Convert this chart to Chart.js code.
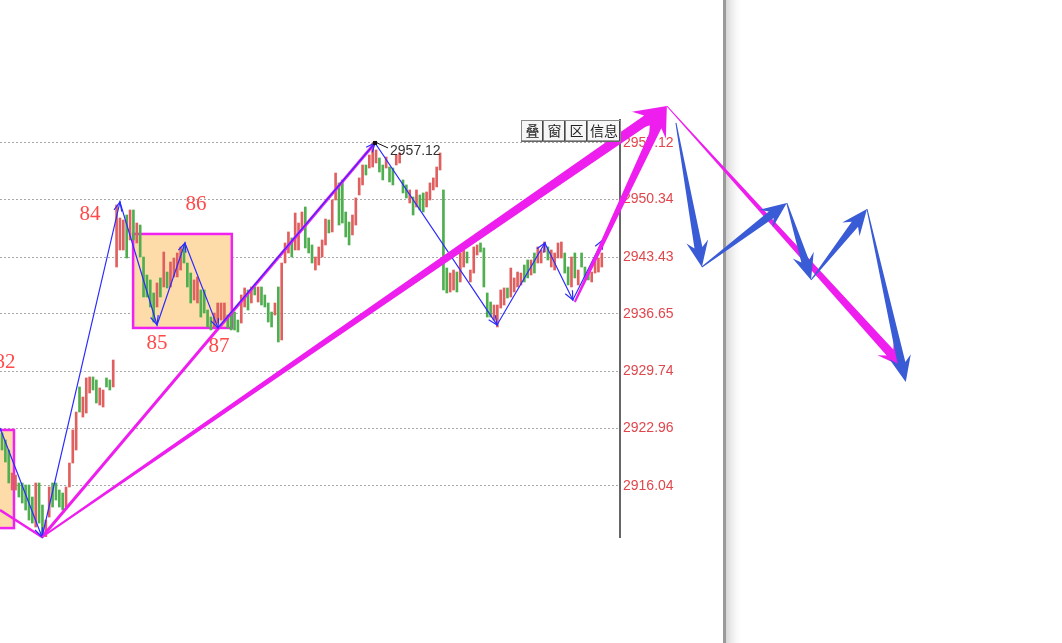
<!DOCTYPE html>
<html>
<head>
<meta charset="utf-8">
<script src="https://cdn.jsdelivr.net/npm/chart.js@4.4.1/dist/chart.umd.min.js"></script>
<style>
  html, body { margin: 0; padding: 0; background: #fff; }
  canvas { display: block; }
</style>
</head>
<body>
<canvas id="kline" width="1062" height="643"></canvas>
<script>
// price ticks on the right axis
var priceTicks = [2957.12, 2950.34, 2943.43, 2936.65, 2929.74, 2922.96, 2916.04];
var priceMin = 2909.92, priceMax = 2959.87;

// candles (r = rising/red, g = falling/green)
var candleHigh = [2922.38,2921.54,2920.34,2917.58,2917.34,2916.39,2916.39,2916.15,2916.15,2914.71,
  2916.39,2916.39,2913.75,2911.95,2915.91,2916.39,2916.39,2915.55,2915.19,2915.91,
  2918.78,2922.74,2924.89,2927.89,2926.69,2928.97,2929.09,2929.09,2928.73,2927.77,
  2927.53,2928.97,2928.73,2931.12,2949.69,2948.13,2947.89,2948.49,2949.09,2949.09,
  2947.53,2947.29,2943.46,2941.30,2940.71,2939.15,2940.35,2940.95,2944.06,2941.66,
  2942.86,2943.34,2943.94,2944.66,2944.90,2942.74,2941.54,2940.71,2941.07,2939.51,
  2939.51,2937.11,2936.27,2936.75,2937.95,2937.95,2937.95,2936.51,2936.87,2936.87,
  2935.91,2938.91,2939.75,2939.51,2939.87,2939.87,2939.87,2939.87,2938.91,2937.95,
  2936.87,2937.95,2939.87,2942.74,2945.14,2946.46,2945.74,2948.73,2947.53,2948.85,
  2949.45,2945.74,2944.90,2943.46,2944.66,2945.50,2948.01,2947.89,2950.29,2953.52,
  2952.33,2952.69,2948.85,2947.65,2948.49,2950.53,2952.93,2954.48,2954.48,2955.68,
  2957.12,2956.28,2955.32,2954.48,2955.44,2954.24,2954.12,2955.68,2955.92,2952.69,
  2952.09,2951.49,2950.65,2951.49,2950.89,2951.13,2951.25,2952.33,2952.93,2954.24,
  2955.92,2951.49,2942.14,2941.54,2941.90,2941.66,2943.94,2944.30,2944.06,2941.90,
  2944.66,2944.90,2945.14,2944.54,2939.15,2938.07,2937.71,2937.71,2939.51,2939.75,
  2939.75,2942.14,2940.95,2941.66,2941.54,2942.50,2943.10,2943.10,2943.94,2944.66,
  2944.30,2945.26,2944.66,2944.30,2943.94,2945.14,2945.26,2943.94,2942.26,2943.46,
  2943.94,2941.90,2943.94,2942.26,2941.54,2941.66,2943.10,2943.34,2943.94];
var candleLow = [2920.34,2918.90,2916.39,2915.55,2915.55,2914.71,2913.99,2913.15,2911.95,2911.59,
  2911.12,2911.59,2909.92,2909.92,2912.31,2913.51,2914.35,2913.51,2913.15,2913.51,
  2915.91,2918.78,2920.34,2924.89,2924.29,2924.77,2927.17,2927.53,2925.97,2925.73,
  2925.49,2927.89,2927.53,2927.89,2942.26,2944.30,2944.30,2943.34,2945.50,2945.50,
  2945.14,2943.46,2938.67,2938.67,2937.47,2935.67,2937.47,2938.67,2939.87,2939.75,
  2939.87,2941.07,2941.07,2941.90,2942.74,2939.87,2937.95,2938.31,2937.95,2936.27,
  2936.75,2935.08,2934.72,2935.08,2935.55,2935.91,2935.91,2934.96,2934.72,2934.72,
  2934.48,2935.55,2937.47,2937.11,2937.95,2938.91,2938.07,2937.71,2937.47,2935.67,
  2935.08,2936.51,2933.28,2933.52,2942.74,2943.94,2943.46,2944.30,2944.30,2946.70,
  2944.54,2943.94,2942.74,2941.90,2942.50,2943.46,2944.90,2946.34,2946.46,2950.29,
  2947.29,2947.53,2945.86,2944.90,2946.10,2947.29,2950.89,2952.09,2953.28,2954.12,
  2954.24,2954.72,2953.64,2952.69,2954.12,2952.45,2952.09,2954.48,2954.72,2951.13,
  2950.53,2949.93,2948.49,2949.45,2949.09,2948.85,2949.45,2950.29,2951.49,2951.85,
  2953.88,2939.51,2939.15,2939.27,2939.51,2939.27,2940.47,2942.26,2942.74,2940.47,
  2941.54,2943.70,2944.06,2939.87,2936.27,2936.27,2935.91,2935.08,2937.35,2937.71,
  2938.55,2938.67,2939.27,2939.87,2940.11,2940.47,2940.95,2941.30,2941.54,2942.74,
  2942.74,2944.06,2943.10,2942.26,2941.90,2943.34,2943.34,2941.54,2940.11,2939.87,
  2940.95,2940.11,2942.26,2940.95,2940.71,2940.47,2941.54,2941.66,2942.26];
var candleColor = ("gggrrggggg" + "rggrrggggr" + "rrrgrrrggr" + "rggrrrrgrg" + "rgggggrgrg" +
  "rrrrgggrrg" + "gggrrrrggg" + "grrgrgrggg" + "grgrrrgrrr" + "gggrrrrgrr" +
  "ggggrrrrgr" + "rrggrggrrg" + "grgrggrrrr" + "rggrrgrrgr" + "rrggggrrrr" +
  "grrrrggrgr" + "rrgrrrrggr" + "grgggrrrr").split("");

// wave drawing: [candle index, price]
var blueWave = [[-0.6,2922.98],[11.87,2909.92],[35.0,2950.05],[46.0,2935.32],[54.3,2945.14],
  [64.1,2934.96],[110.7,2957.12],[146.9,2935.32],[161.1,2945.14],[169.4,2938.31],[178.3,2945.50]];
var magentaBase = [[-0.6,2913.15],[11.87,2909.92]];
var magentaRise = [[11.87,2909.92],[110.7,2957.12]];
var magentaArrows = [
  [[11.87,2909.92],[197.3,2961.55]],
  [[170.0,2938.07],[197.3,2961.55]],
  [[197.3,2961.55],[267.4,2930.28]]
];
var bluePivots = [[200.0,2959.52],[207.7,2942.26],[232.9,2949.93],[240.1,2940.71],[256.7,2949.21],[268.2,2928.49]];
// zone boxes: [x from, x to, price low, price high]
var zoneBoxes = [[-3, 3.55, 2910.99, 2922.74], [38.9, 68.2, 2934.96, 2946.22]];
var waveLabels = ["82", "84", "85", "86", "87"];
var waveLabelPos = [[0.9,2930.88],[26.1,2948.61],[46.0,2933.16],[57.6,2949.81],[64.4,2932.80]];
var peakPoint = [110.7, 2957.12];
var peakLabel = "2957.12";
var buttonLabels = ["叠", "窗", "区", "信息"];

var candleData = candleHigh.map(function (h, i) { return { x: i, y: [candleLow[i], h] }; });
var toXY = function (p) { return { x: p[0], y: p[1] }; };

function arrow(ctx, a, b, w0, w1, hw, hl, color) {
  var dx = b[0] - a[0], dy = b[1] - a[1], L = Math.hypot(dx, dy);
  var ux = dx / L, uy = dy / L, nx = -uy, ny = ux;
  var sx = b[0] - ux * hl * 0.75, sy = b[1] - uy * hl * 0.75;
  var kx = b[0] - ux * hl, ky = b[1] - uy * hl;
  ctx.beginPath();
  ctx.moveTo(a[0] + nx * w0 / 2, a[1] + ny * w0 / 2);
  ctx.lineTo(sx + nx * w1 / 2, sy + ny * w1 / 2);
  ctx.lineTo(kx + nx * hw / 2, ky + ny * hw / 2);
  ctx.lineTo(b[0], b[1]);
  ctx.lineTo(kx - nx * hw / 2, ky - ny * hw / 2);
  ctx.lineTo(sx - nx * w1 / 2, sy - ny * w1 / 2);
  ctx.lineTo(a[0] - nx * w0 / 2, a[1] - ny * w0 / 2);
  ctx.closePath();
  ctx.fillStyle = color;
  ctx.fill();
}

var overlay = {
  id: 'overlay',
  beforeDraw: function (chart) {
    var ctx = chart.ctx;
    ctx.save();
    var g = ctx.createLinearGradient(726, 0, 744, 0);
    g.addColorStop(0, '#d6d6d6');
    g.addColorStop(1, 'rgba(255,255,255,0)');
    ctx.fillStyle = g;
    ctx.fillRect(726, 0, 18, chart.height);
    ctx.fillStyle = '#9a9a9a';
    ctx.fillRect(723, 0, 3, chart.height);
    ctx.restore();
  },
  beforeDatasetsDraw: function (chart) {
    var ctx = chart.ctx, xs = chart.scales.x, ys = chart.scales.y;
    ctx.save();
    zoneBoxes.forEach(function (b) {
      var x0 = xs.getPixelForValue(b[0]), x1 = xs.getPixelForValue(b[1]);
      var y0 = ys.getPixelForValue(b[3]), y1 = ys.getPixelForValue(b[2]);
      ctx.fillStyle = '#fddcaa';
      ctx.fillRect(x0, y0, x1 - x0, y1 - y0);
      ctx.strokeStyle = '#f022f0';
      ctx.lineWidth = 2.5;
      ctx.strokeRect(x0, y0, x1 - x0, y1 - y0);
    });
    ctx.restore();
  },
  afterDraw: function (chart) {
    var ctx = chart.ctx, xs = chart.scales.x, ys = chart.scales.y;
    var P = function (p) { return [xs.getPixelForValue(p[0]), ys.getPixelForValue(p[1])]; };
    ctx.save();

    // little open arrow heads on the wave line
    ctx.strokeStyle = '#2b2bff';
    ctx.lineWidth = 1.2;
    for (var i = 1; i < blueWave.length; i++) {
      var a = P(blueWave[i - 1]), b = P(blueWave[i]);
      var dx = b[0] - a[0], dy = b[1] - a[1], L = Math.hypot(dx, dy);
      var ux = dx / L, uy = dy / L;
      ctx.beginPath();
      ctx.moveTo(b[0] - ux * 9 - uy * 4, b[1] - uy * 9 + ux * 4);
      ctx.lineTo(b[0], b[1]);
      ctx.lineTo(b[0] - ux * 9 + uy * 4, b[1] - uy * 9 - ux * 4);
      ctx.stroke();
    }

    // peak marker
    var pk = P(peakPoint);
    ctx.fillStyle = '#111';
    ctx.fillRect(pk[0] - 2, pk[1] - 2, 4, 4);
    ctx.strokeStyle = '#111';
    ctx.lineWidth = 1;
    ctx.beginPath();
    ctx.moveTo(pk[0] + 2, pk[1]);
    ctx.lineTo(pk[0] + 13, pk[1] + 5);
    ctx.stroke();
    ctx.fillStyle = '#333';
    ctx.font = '14px "Liberation Sans", Arial, sans-serif';
    ctx.textBaseline = 'middle';
    ctx.textAlign = 'left';
    ctx.fillText(peakLabel, pk[0] + 15, pk[1] + 8);

    // wave numbers
    ctx.fillStyle = '#ff4a4a';
    ctx.font = '21px "Liberation Serif", "Times New Roman", serif';
    ctx.textAlign = 'center';
    waveLabels.forEach(function (t, k) {
      var q = P(waveLabelPos[k]);
      ctx.fillText(t, q[0], q[1]);
    });

    // big arrows
    var mSize = [[2, 10, 30, 32], [2, 9, 26, 30], [1, 9, 22, 26]];
    magentaArrows.forEach(function (m, k) {
      var s = mSize[k];
      arrow(ctx, P(m[0]), P(m[1]), s[0], s[1], s[2], s[3], '#ee1eee');
    });
    for (var j = 1; j < bluePivots.length; j++) {
      arrow(ctx, P(bluePivots[j - 1]), P(bluePivots[j]), 1, 8, 22, 26, '#3a5bd6');
    }

    // toolbar buttons
    var edges = [521, 543, 565, 587, 620];
    ctx.font = '14px "Noto Sans CJK SC", sans-serif';
    for (var n = 0; n < buttonLabels.length; n++) {
      var x0 = edges[n] + 0.5, w = edges[n + 1] - edges[n];
      ctx.fillStyle = '#f6f6f6';
      ctx.fillRect(x0, 120.5, w, 21);
      ctx.strokeStyle = '#888';
      ctx.lineWidth = 1;
      ctx.strokeRect(x0, 120.5, w, 21);
      ctx.strokeStyle = '#444';
      ctx.beginPath();
      ctx.moveTo(x0 + w - 1, 121);
      ctx.lineTo(x0 + w - 1, 141);
      ctx.lineTo(x0, 141);
      ctx.stroke();
      ctx.fillStyle = '#222';
      ctx.textAlign = 'center';
      ctx.fillText(buttonLabels[n], x0 + w / 2, 131);
    }
    ctx.restore();
  }
};

var ctx = document.getElementById('kline').getContext('2d');
var kline = new Chart(ctx, {
  type: 'bar',
  data: {
    datasets: [{
      type: 'line',
      data: blueWave.map(toXY),
      borderColor: '#2b2bff',
      borderWidth: 1.2,
      pointRadius: 0,
      clip: false,
      order: 1
    }, {
      type: 'line',
      data: magentaRise.map(toXY),
      borderColor: '#ee1eee',
      borderWidth: 3,
      pointRadius: 0,
      clip: false,
      order: 2
    }, {
      type: 'line',
      data: magentaBase.map(toXY),
      borderColor: '#ee1eee',
      borderWidth: 2.5,
      pointRadius: 0,
      clip: false,
      order: 2
    }, {
      type: 'bar',
      data: candleData,
      backgroundColor: candleColor.map(function (c) { return c === 'r' ? '#e06060' : '#4fae4f'; }),
      barThickness: 2,
      order: 3
    }]
  },
  options: {
    responsive: false,
    devicePixelRatio: 1,
    animation: false,
    layout: { padding: { top: 120, bottom: 106, left: 0, right: 0 } },
    plugins: { legend: { display: false }, tooltip: { enabled: false } },
    scales: {
      x: { type: 'linear', min: -0.6, max: 183.4, offset: false, display: false },
      y: {
        type: 'linear',
        position: 'right',
        min: priceMin,
        max: priceMax,
        afterBuildTicks: function (s) { s.ticks = priceTicks.map(function (v) { return { value: v }; }); },
        afterFit: function (s) { s.width = 442; },
        ticks: {
          color: '#e0474c',
          font: { family: '"Liberation Sans", Arial, sans-serif', size: 14 },
          padding: 3,
          callback: function (v) { return v.toFixed(2); }
        },
        grid: { color: '#a8a8a8', drawTicks: false, tickLength: 0 },
        border: { display: true, color: '#666', width: 2, dash: [2, 2] }
      }
    }
  },
  plugins: [overlay]
});
</script>
</body>
</html>
